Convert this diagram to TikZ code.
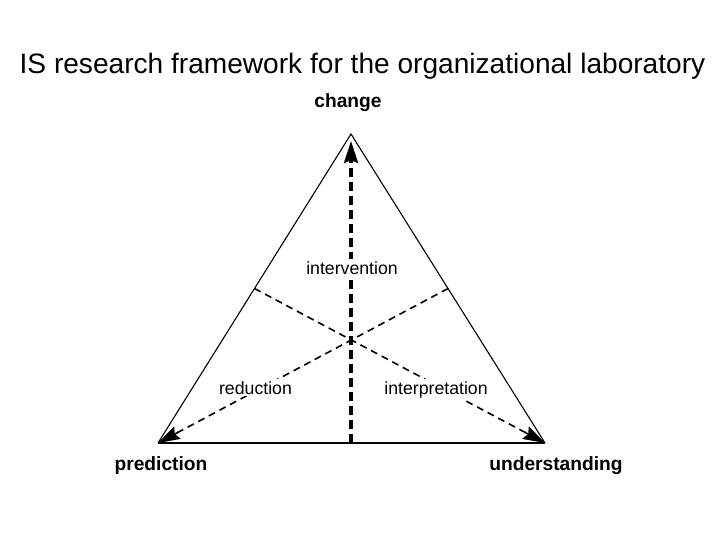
\documentclass[tikz,border=0pt]{standalone}
\usepackage{fontspec}
\setmainfont{Liberation Sans}
\usetikzlibrary{arrows.meta,calc}
\begin{document}
\begin{tikzpicture}[x=1pt,y=-1pt,
  side/.style={line width=1.1pt, line join=miter},
  base/.style={line width=1.9pt},
  tipstyle/.style={-{Stealth[length=22pt,width=14pt,inset=3pt]}},
  thickdash/.style={line width=3.2pt, dash pattern=on 9pt off 5pt, tipstyle},
  thindash/.style={line width=1.6pt, dash pattern=on 7pt off 5pt},
  soltip/.style={line width=1.6pt, solid, tipstyle},
  lab/.style={font=\fontsize{17.7}{19}\selectfont, fill=white, inner sep=2pt, anchor=base},
  corner/.style={font=\fontsize{19.2}{21}\selectfont\bfseries, anchor=base, inner sep=0pt},
  title/.style={font=\fontsize{28.1}{30}\selectfont, anchor=base, inner sep=0pt}]
\useasboundingbox (0,0) rectangle (720,540);
\fill[white] (0,0) rectangle (720,540);
% corners
\coordinate (A) at (351,134);
\coordinate (P) at (158,443);
\coordinate (U) at (545,443);
\coordinate (M) at (351,443);
\coordinate (L) at (254.5,288.5);
\coordinate (R) at (448,288.5);
\coordinate (Lt) at ($(L)!0.93!(U)$);
\coordinate (Rt) at ($(R)!0.93!(P)$);
% triangle
\draw[side] (P) -- (A) -- (U);
\draw[base] (P) -- (U);
% dashed arrows
\draw[thickdash, shorten >=7pt] (M) -- (A);
\draw[thindash, shorten >=12pt] (L) -- (U);
\draw[soltip] (Lt) -- (U);
\draw[thindash, shorten >=12pt] (R) -- (P);
\draw[soltip] (Rt) -- (P);
% labels
\node[lab] (int) at (352,274) {intervention};
\node[lab] (red) at (255.5,394) {reduction};
\node[lab] (inp) at (436,394) {interpretation};
\node[corner] (ch) at (348,108) {change};
\node[corner] (pr) at (161,470) {prediction};
\node[corner] (un) at (556,470) {understanding};
\node[title] (t) at (362.5,74) {IS research framework for the organizational laboratory};
\end{tikzpicture}
\end{document}
